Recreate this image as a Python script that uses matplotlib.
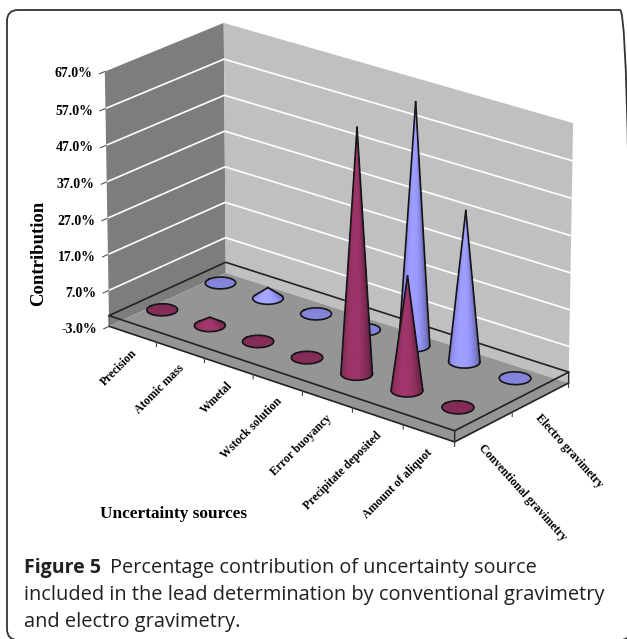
import numpy as np
import matplotlib
matplotlib.use("Agg")
import matplotlib.pyplot as plt
from matplotlib.patches import FancyBboxPatch
from mpl_toolkits.mplot3d import proj3d
from mpl_toolkits.mplot3d.art3d import Poly3DCollection

# Data
categories = ["Precision", "Atomic mass", "Wmetal", "Wstock solution",
              "Error buoyancy", "Precipitate deposited", "Amount of aliquot"]
series_names = ["Conventional gravimetry", "Electro gravimetry"]
conventional = [0.1, 2.3, 0.1, 0.1, 66.3, 30.9, 0.1]
electro = [0.1, 3.0, 0.1, 0.1, 66.2, 41.1, 0.1]
z_ticks = [-3, 7, 17, 27, 37, 47, 57, 67]

SERIF = "Liberation Serif"
ELEV, AZIM = 22.2, -50.6
BOX = (443, 181, 274)
RADIUS = 15.5
rx = RADIUS * 7 / BOX[0]
ry = RADIUS * 2 / BOX[1]
h_scale = BOX[2] / 70

fig = plt.figure(figsize=(6.27, 6.39), dpi=100)

# Frame round the figure
fig.add_artist(FancyBboxPatch((0.07, -0.01), 6.24, 6.30,
                              boxstyle="round,pad=0,rounding_size=0.11",
                              transform=fig.dpi_scale_trans, fc="none",
                              ec="#333333", lw=1.3))

ax = fig.add_axes([28 / 627, 1 - 535 / 639, 600 / 627, 600 / 639],
                  projection="3d", computed_zorder=False)
ax.set_axis_off()
ax.patch.set_alpha(0)
ax.set_xlim(0, 7)
ax.set_ylim(0, 2)
ax.set_zlim(-3, 67)
ax.set_box_aspect(BOX, zoom=0.905)
ax.view_init(elev=ELEV, azim=AZIM)
ax.set_proj_type("persp", focal_length=1.7)

order = [1]


def next_z():
    order[0] += 1
    return order[0]


def wall(verts, color):
    ax.add_collection3d(Poly3DCollection([verts], facecolors=color,
                                         edgecolors="none", zorder=next_z()))


def label(x, y, z, s, **kw):
    # Text3D ignores rotation, so project the point and place plain text
    px, py, _ = proj3d.proj_transform(x, y, z, ax.get_proj())
    ax.text2D(px, py, s, transform=ax.transData, family=SERIF, weight="bold",
              color="black", rotation_mode="anchor", va="center", **kw)


# Walls and floor
zb, zt = z_ticks[0], z_ticks[-1]
wall([(0, 0, zb), (0, 2, zb), (0, 2, zt), (0, 0, zt)], "#7d7d7d")
wall([(0, 2, zb), (7, 2, zb), (7, 2, zt), (0, 2, zt)], "#c0c0c0")
wall([(0, 0, zb), (7, 0, zb), (7, 2, zb), (0, 2, zb)], "#959595")

# Grid lines
for z in z_ticks[1:-1]:
    ax.plot([0, 0, 7], [0, 2, 2], [z, z, z], color="white", lw=1.2, zorder=next_z())

# Black outline at zero and the axis lines
dark = "#222222"
ax.plot([0, 0, 7, 7, 0], [0, 2, 2, 0, 0], [0, 0, 0, 0, 0], color=dark, lw=1.2, zorder=next_z())
ax.plot([0, 7, 7], [0, 0, 2], [zb, zb, zb], color=dark, lw=1.2, zorder=next_z())
ax.plot([0, 0], [0, 0], [zb, 0], color="#555555", lw=0.8, zorder=next_z())
ax.plot([7, 7], [0, 0], [zb, 0], color=dark, lw=1.0, zorder=next_z())
ax.plot([7, 7], [2, 2], [zb, 0], color=dark, lw=1.0, zorder=next_z())

# Ticks
for x in range(1, 8):
    ax.plot([x, x], [0, 0], [zb, zb - 1.2], color="#444444", lw=0.8, zorder=next_z())
for y in range(0, 3):
    ax.plot([7, 7], [y, y], [zb, zb - 1.2], color="#444444", lw=0.8, zorder=next_z())
for z in z_ticks:
    ax.plot([0, 0], [0, -0.09], [z, z], color="#555555", lw=0.8, zorder=next_z())
    label(0, -0.2, z + 0.7, f"{z:.1f}%", fontsize=10, ha="right")


def cone(cx, cy, value, color):
    az = np.radians(AZIM)
    el = np.radians(ELEV)
    h = max(value * h_scale, 0.05)
    theta = np.linspace(-np.pi, np.pi, 97)
    X = cx + np.outer(rx * np.cos(az + theta), [1, 0])
    Y = cy + np.outer(ry * np.sin(az + theta), [1, 0])
    Z = np.outer(np.ones_like(theta), [0, value])

    # shade each facet from the way it faces the viewer
    mid = (theta[:-1] + theta[1:]) / 2 + np.radians(12)
    slope = RADIUS / h
    nrm = np.sqrt(1 + slope ** 2)
    facing = (np.cos(mid) * np.cos(el) + slope * np.sin(el)) / nrm
    shade = 0.5 + 0.55 * np.clip(facing, 0, 1) + 0.15 * slope / nrm
    rgb = np.clip(np.outer(shade, matplotlib.colors.to_rgb(color)), 0, 1)
    faces = np.ones((97, 2, 4))
    faces[:-1, 0, :3] = rgb
    faces[:-1, 1, :3] = rgb
    faces[-1, :, :3] = rgb[-1]
    ax.plot_surface(X, Y, Z, facecolors=faces, shade=False, rstride=1, cstride=1,
                    linewidth=0, antialiased=False, zorder=next_z())

    # outline: front of the rim and the two sides up to the tip
    c = slope * np.tan(el)
    line = dict(color="#151515", lw=1.2, zorder=next_z())
    if c < 1:
        ts = np.arccos(-c)
        arc = np.linspace(-ts, ts, 60)
        ax.plot(cx + rx * np.cos(az + arc), cy + ry * np.sin(az + arc), 0 * arc, **line)
        for t in (-ts, ts):
            ax.plot([cx + rx * np.cos(az + t), cx], [cy + ry * np.sin(az + t), cy],
                    [0, value], **line)
    else:
        ax.plot(cx + rx * np.cos(theta), cy + ry * np.sin(theta), 0 * theta, **line)


# Back row first, then the front row
for i, v in enumerate(electro):
    cone(i + 0.5, 1.5, v, "#9999ff")
for i, v in enumerate(conventional):
    cone(i + 0.5, 0.5, v, "#993366")

# Category and series labels
for i, name in enumerate(categories):
    label(i + 0.54, 0, zb - 4.5, name, fontsize=8.5, rotation=45, ha="right")
for j, name in enumerate(series_names):
    label(7, j + 0.45, zb - 4.7, name, fontsize=8.4, rotation=-48, ha="left")

fig.text(39 / 627, 1 - 253 / 639, "Contribution", family=SERIF, weight="bold", fontsize=13.5,
         rotation=90, ha="center", va="center")
fig.text(174 / 627, 1 - 514 / 639, "Uncertainty sources", family=SERIF, weight="bold",
         fontsize=12.4, ha="center", va="center")

# Caption
cap = "#231f20"
fig.text(24 / 627, 1 - 573 / 639, "Figure 5", family="Open Sans", weight="bold",
         fontsize=14, color=cap, va="baseline")
fig.text(110 / 627, 1 - 573 / 639, "Percentage contribution of uncertainty source",
         family="Open Sans", fontsize=14.3, color=cap, va="baseline")
fig.text(24 / 627, 1 - 600 / 639, "included in the lead determination by conventional gravimetry",
         family="Open Sans", fontsize=14.4, color=cap, va="baseline")
fig.text(24 / 627, 1 - 627 / 639, "and electro gravimetry.",
         family="Open Sans", fontsize=14.4, color=cap, va="baseline")

fig.savefig("out.png", dpi=100)
